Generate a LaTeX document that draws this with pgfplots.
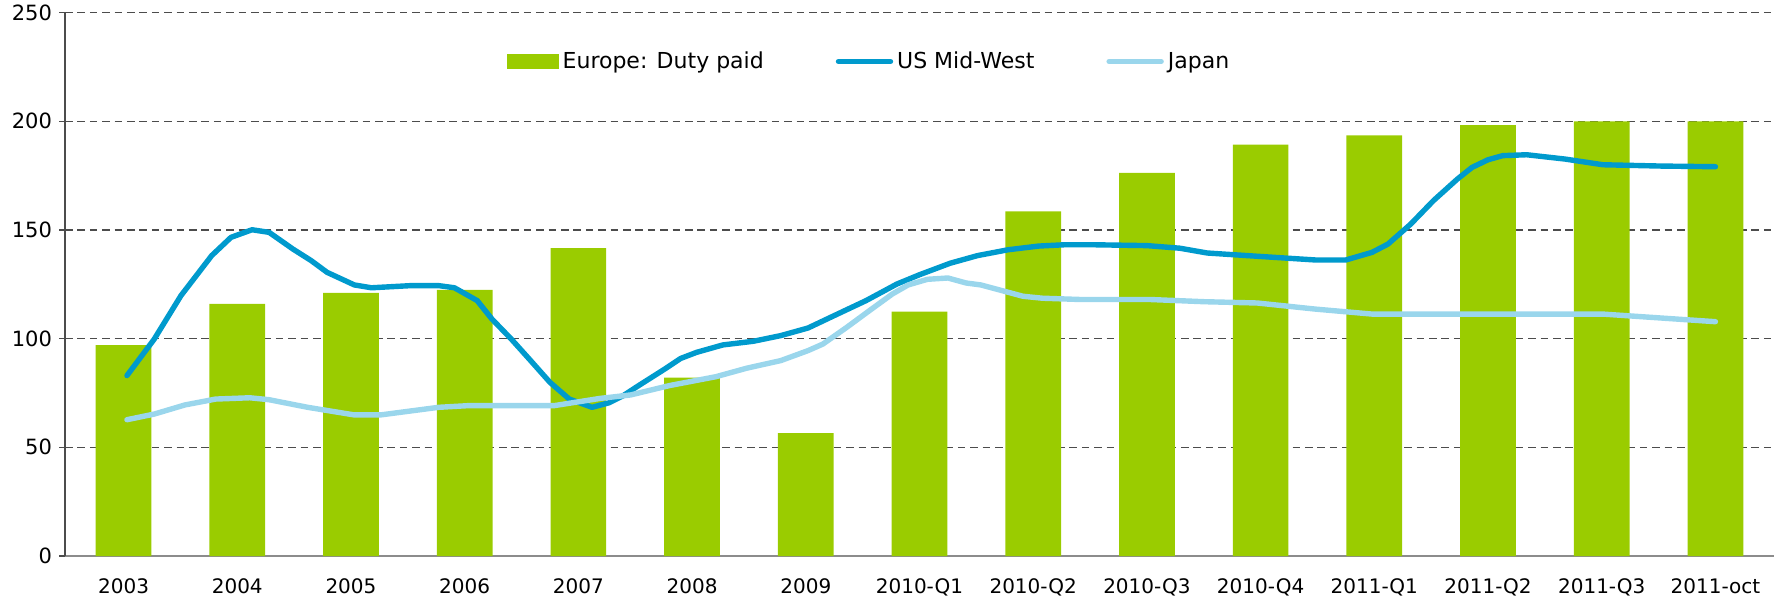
\documentclass[border=0pt]{standalone}
\usepackage{fontspec}
\setmainfont{DejaVu Sans}
\usepackage{pgfplots}
\pgfplotsset{compat=1.18}
\definecolor{eugreen}{HTML}{9ACC00}
\definecolor{usblue}{HTML}{009ACD}
\definecolor{jpblue}{HTML}{9AD6EC}
\begin{document}
\begin{tikzpicture}
\useasboundingbox (-32.5pt,-22pt) rectangle (859pt,278pt);
\begin{axis}[
    scale only axis,
    width=854.5pt, height=271.7pt,
    xmin=-0.515, xmax=14.515,
    ymin=0, ymax=250,
    ytick={0,50,...,250},
    xtick={0,...,14},
    xticklabels={2003,2004,2005,2006,2007,2008,2009,2010-Q1,2010-Q2,2010-Q3,2010-Q4,2011-Q1,2011-Q2,2011-Q3,2011-oct},
    axis x line=bottom, axis y line=left,
    axis line style={-},
    x axis line style={draw=gray!90, line width=1pt},
    y axis line style={draw=black!70, line width=0.6pt},
    xtick style={draw=none},
    ytick style={draw=black!70, line width=0.6pt},
    tick align=outside, major tick length=3pt,
    ymajorgrids,
    grid style={dashed, dash pattern=on 3.8pt off 2.4pt, draw=black!70, line width=0.7pt},
    tick label style={font=\fontsize{10.5}{12}\selectfont},
    xticklabel style={font=\fontsize{10}{12}\selectfont, yshift=-5pt},
    /pgf/number format/assume math mode=true,
    legend style={at={(0.471,0.91)}, anchor=center, draw=none, fill=none,
        legend columns=3, font=\fontsize{11}{13}\selectfont,
        /tikz/every even column/.append style={column sep=34pt}},
    legend image code/.code={\draw[#1, line width=2.7pt] (0pt,0pt) -- (26pt,0pt);},
]
\addplot[ybar, bar width=0.49, fill=eugreen, draw=none,
    legend image code/.code={\fill[eugreen] (0pt,-3.75pt) rectangle (26pt,3.75pt);}]
coordinates {(0,97) (1,116) (2,121) (3,122.4) (4,141.7) (5,82.1) (6,56.5) (7,112.4)
 (8,158.5) (9,176.3) (10,189.3) (11,193.5) (12,198.2) (13,200) (14,200)};
\addlegendentry{Europe:  Duty paid}
\addplot[usblue, line width=2.7pt, line join=round, line cap=round]
coordinates {(0.03,83) (0.27,99.8) (0.505,119.8) (0.775,138.2) (0.945,146.6) (1.13,150.1)
 (1.28,148.9) (1.49,141.2) (1.65,135.9) (1.79,130.5) (2.03,124.7) (2.18,123.4) (2.53,124.4)
 (2.77,124.4) (2.91,123.4) (3.11,117.5) (3.24,109) (3.41,99.8) (3.58,89.9) (3.75,79.9)
 (3.92,72.2) (4.12,68.4) (4.27,70.5) (4.395,73.8) (4.53,78.4) (4.75,85.7) (4.90,90.9) (5.04,93.7)
 (5.27,97.1) (5.54,98.8) (5.78,101.4) (6.02,104.9) (6.25,110.6) (6.53,117.5) (6.80,125.1)
 (7.0,129.4) (7.27,134.7) (7.51,138.2) (7.78,140.9) (8.05,142.6) (8.28,143.2) (8.52,143.2)
 (9.0,142.8) (9.29,141.6) (9.53,139.4) (9.97,137.9) (10.48,136.2) (10.75,136.2) (10.98,139.7)
 (11.12,143.5) (11.32,152.7) (11.52,163.5) (11.73,173.4) (11.86,178.8) (12.0,182.3)
 (12.13,184.2) (12.34,184.6) (12.68,182.6) (13.01,180) (13.52,179.4) (14.0,179.1)};
\addlegendentry{US Mid-West}
\addplot[jpblue, line width=2.7pt, line join=round, line cap=round]
coordinates {(0.03,62.7) (0.27,65.3) (0.54,69.5) (0.81,72.2) (1.11,72.8) (1.28,71.9)
 (1.62,68.4) (2.03,64.9) (2.26,64.9) (2.77,68.4) (3.04,69.2) (3.79,69.2) (4.19,72.5)
 (4.46,74.1) (4.80,78.4) (5.21,82.5) (5.48,86.4) (5.78,89.9) (6.02,94.5) (6.15,97.5)
 (6.36,105.2) (6.56,112.9) (6.76,120.5) (6.90,124.7) (7.07,127.3) (7.25,127.9) (7.41,125.6)
 (7.54,124.7) (7.91,119.5) (8.08,118.6) (8.42,118) (9.03,118) (9.5,117) (9.97,116.4)
 (10.48,113.6) (10.98,111.3) (13.01,111.3) (14.0,107.8)};
\addlegendentry{Japan}
\end{axis}
\end{tikzpicture}
\end{document}
